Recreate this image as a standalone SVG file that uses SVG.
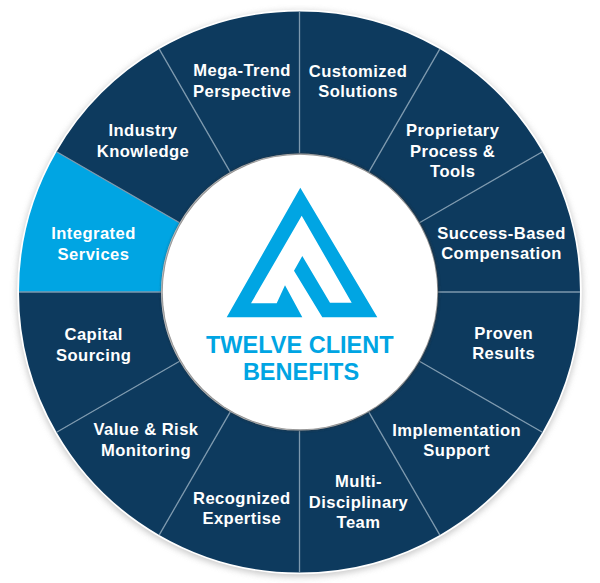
<svg xmlns="http://www.w3.org/2000/svg" width="600" height="583" viewBox="0 0 600 583">
<style>
.seg{fill:#0d3a5e}
.hi{fill:#00a5e3}
.lbl{font-family:"Liberation Sans",Arial,sans-serif;font-weight:700;font-size:16.6px;letter-spacing:.45px;fill:#fff;text-anchor:middle}
.spoke{stroke:#7d99ae;stroke-width:1.3;fill:none}
.title{font-family:"Liberation Sans",Arial,sans-serif;font-weight:700;font-size:23.5px;fill:#00a5e3;text-anchor:middle}
</style>
<defs>
<filter id="soft" x="-10%" y="-10%" width="120%" height="120%"><feGaussianBlur stdDeviation="3"/></filter>
<filter id="in" x="-10%" y="-10%" width="120%" height="120%"><feGaussianBlur stdDeviation="1.5"/></filter>
</defs>
<rect width="600" height="583" fill="#fff"/>
<circle cx="299.5" cy="294" r="283" fill="#b5b5b5" filter="url(#soft)" opacity=".7"/>
<circle cx="299.5" cy="292" r="282.300" fill="#fff"/>
<g id="seg-customized"><path class="seg" d="M299.5 11.500A280.500 280.500 0 0 1 439.750 49.080L368.750 172.060A138.500 138.500 0 0 0 299.500 153.500Z"/><text class="lbl" x="358" y="76.500">Customized</text><text class="lbl" x="358" y="97">Solutions</text></g>
<g id="seg-proprietary"><path class="seg" d="M439.750 49.080A280.500 280.500 0 0 1 542.420 151.750L419.440 222.750A138.500 138.500 0 0 0 368.750 172.060Z"/><text class="lbl" x="452.700" y="136">Proprietary</text><text class="lbl" x="452.700" y="156.500">Process &amp;</text><text class="lbl" x="452.700" y="177">Tools</text></g>
<g id="seg-success"><path class="seg" d="M542.420 151.750A280.500 280.500 0 0 1 580 292L438 292A138.500 138.500 0 0 0 419.440 222.750Z"/><text class="lbl" x="501.500" y="239">Success-Based</text><text class="lbl" x="501.500" y="259">Compensation</text></g>
<g id="seg-proven"><path class="seg" d="M580 292A280.500 280.500 0 0 1 542.420 432.250L419.440 361.250A138.500 138.500 0 0 0 438 292Z"/><text class="lbl" x="503.700" y="339">Proven</text><text class="lbl" x="503.700" y="359">Results</text></g>
<g id="seg-implementation"><path class="seg" d="M542.420 432.250A280.500 280.500 0 0 1 439.750 534.920L368.750 411.940A138.500 138.500 0 0 0 419.440 361.250Z"/><text class="lbl" x="456.700" y="435.500">Implementation</text><text class="lbl" x="456.700" y="456">Support</text></g>
<g id="seg-multi"><path class="seg" d="M439.750 534.920A280.500 280.500 0 0 1 299.500 572.500L299.500 430.500A138.500 138.500 0 0 0 368.750 411.940Z"/><text class="lbl" x="358.500" y="487">Multi-</text><text class="lbl" x="358.500" y="507.500">Disciplinary</text><text class="lbl" x="358.500" y="528">Team</text></g>
<g id="seg-expertise"><path class="seg" d="M299.500 572.500A280.500 280.500 0 0 1 159.250 534.920L230.250 411.940A138.500 138.500 0 0 0 299.500 430.500Z"/><text class="lbl" x="241.800" y="503.500">Recognized</text><text class="lbl" x="241.800" y="524">Expertise</text></g>
<g id="seg-value"><path class="seg" d="M159.250 534.920A280.500 280.500 0 0 1 56.580 432.250L179.560 361.250A138.500 138.500 0 0 0 230.250 411.940Z"/><text class="lbl" x="146" y="435">Value &amp; Risk</text><text class="lbl" x="146" y="456">Monitoring</text></g>
<g id="seg-capital"><path class="seg" d="M56.580 432.250A280.500 280.500 0 0 1 19 292L161 292A138.500 138.500 0 0 0 179.560 361.250Z"/><text class="lbl" x="93.700" y="340">Capital</text><text class="lbl" x="93.700" y="361">Sourcing</text></g>
<g id="seg-integrated"><path class="hi" d="M19 292A280.500 280.500 0 0 1 56.580 151.750L179.560 222.750A138.500 138.500 0 0 0 161 292Z"/><text class="lbl" x="93.500" y="239">Integrated</text><text class="lbl" x="93.500" y="260">Services</text></g>
<g id="seg-industry"><path class="seg" d="M56.580 151.750A280.500 280.500 0 0 1 159.250 49.080L230.250 172.060A138.500 138.500 0 0 0 179.560 222.750Z"/><text class="lbl" x="143" y="136">Industry</text><text class="lbl" x="143" y="157">Knowledge</text></g>
<g id="seg-mega"><path class="seg" d="M159.250 49.080A280.500 280.500 0 0 1 299.500 11.500L299.500 153.500A138.500 138.500 0 0 0 230.250 172.060Z"/><text class="lbl" x="242" y="76">Mega-Trend</text><text class="lbl" x="242" y="97">Perspective</text></g>
<g id="connectors">
<line class="spoke" x1="299.500" y1="11.500" x2="299.500" y2="153.500"/>
<line class="spoke" x1="439.750" y1="49.080" x2="368.750" y2="172.060"/>
<line class="spoke" x1="542.420" y1="151.750" x2="419.440" y2="222.750"/>
<line class="spoke" x1="580" y1="292" x2="438" y2="292"/>
<line class="spoke" x1="542.420" y1="432.250" x2="419.440" y2="361.250"/>
<line class="spoke" x1="439.750" y1="534.920" x2="368.750" y2="411.940"/>
<line class="spoke" x1="299.500" y1="572.500" x2="299.500" y2="430.500"/>
<line class="spoke" x1="159.250" y1="534.920" x2="230.250" y2="411.940"/>
<line class="spoke" x1="56.580" y1="432.250" x2="179.560" y2="361.250"/>
<line class="spoke" x1="19" y1="292" x2="161" y2="292"/>
<line class="spoke" x1="56.580" y1="151.750" x2="179.560" y2="222.750"/>
<line class="spoke" x1="159.250" y1="49.080" x2="230.250" y2="172.060"/>
</g>
<g id="center">
<circle cx="300" cy="292" r="138.500" fill="#333" filter="url(#in)" opacity=".75"/>
<circle cx="300" cy="292" r="137.300" fill="#fff"/>
<path fill="#00a5e3" d="M300.300 187.700L226.700 317.300L302.300 317.300L285 285.300L276.700 303.300L251 303.300L301.700 215.700L351.700 302.700L330 302.700L302.300 256L294 270.700L322.300 317.300L377.300 317.300Z"/>
<text class="title" x="299.800" y="352.700">TWELVE CLIENT</text>
<text class="title" x="301" y="380.300">BENEFITS</text>
</g>
</svg>
